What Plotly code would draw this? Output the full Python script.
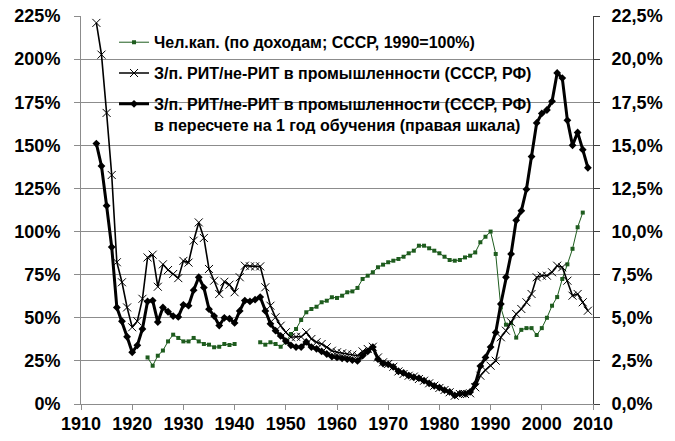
import plotly.graph_objects as go

# ---- data ----
years_main = list(range(1913, 2010))

# З/п. РИТ/не-РИТ в промышленности (left scale, %)
wage_ratio = [
    221, 202.6, 168.8, 132.8, 82.2, 70.6, 56, 44.5, 48, 61,          # 1913-1922
    85, 86.6, 68, 81, 77.7, 75.4, 73, 83, 82, 94.7,                  # 1923-1932
    105.3, 96.3, 78.3, 71.5, 63.8, 70.9, 69.2, 64.8, 73.5, 80.2,     # 1933-1942
    79.8, 79.8, 79.8, 67.7, 57, 50.3, 45.4, 41.6, 38.7, 39,          # 1943-1952
    39, 41.6, 37.7, 35.8, 34.8, 32.9, 30.9, 30, 29.4, 29,            # 1953-1962
    28.6, 28, 30.5, 31.9, 33.2, 27, 24.2, 23.2, 21.6, 18.9,          # 1963-1972
    17.4, 16.4, 15.9, 14.5, 13.5, 12, 10.6, 9.3, 8.1, 6.8,           # 1973-1982
    4.8, 5.8, 5.8, 6.2, 9.7, 16.4, 19.7, 22.2, 25.1, 38.7,           # 1983-1992
    42.5, 47.4, 52.2, 55.1, 59, 63.8, 73.5, 74.4, 74.4, 76.4,        # 1993-2002
    80.2, 79.3, 71.5, 62.8, 63.8, 59, 54.1,                          # 2003-2009
]

# same, per 1 year of schooling (right scale, %)
wage_ratio_per_year = [
    15.1, 13.8, 11.5, 9.1, 5.6, 4.8, 3.9, 3.0, 3.4, 4.35,            # 1913-1922
    5.95, 6.0, 4.75, 5.6, 5.35, 5.1, 5.05, 5.75, 5.7, 6.6,           # 1923-1932
    7.35, 6.75, 5.5, 5.1, 4.55, 5.0, 4.95, 4.7, 5.4, 6.0,            # 1933-1942
    5.95, 6.05, 6.2, 5.4, 4.65, 4.25, 3.95, 3.65, 3.4, 3.3,          # 1943-1952
    3.3, 3.6, 3.3, 3.2, 3.05, 2.9, 2.75, 2.7, 2.65, 2.6,             # 1953-1962
    2.55, 2.5, 2.8, 3.05, 3.3, 2.6, 2.35, 2.3, 2.15, 1.9,            # 1963-1972
    1.8, 1.65, 1.55, 1.5, 1.35, 1.2, 1.05, 0.95, 0.8, 0.7,           # 1973-1982
    0.5, 0.6, 0.6, 0.7, 1.15, 2.2, 2.7, 3.3, 4.15, 5.8,              # 1983-1992
    7.35, 8.7, 10.65, 11.2, 12.45, 14.35, 16.3, 16.85, 17.05, 17.55, # 1993-2002
    19.2, 18.9, 16.45, 15.0, 15.75, 14.75, 13.7,                     # 2003-2009
]

years_hc = list(range(1923, 2009))
# Чел.кап. (по доходам; СССР, 1990=100%), left scale, gap 1941-1944
human_capital = [
    27, 22.2, 28, 31, 36.3, 40.2, 38.3, 36.3, 36.3, 38.3,            # 1923-1932
    36.3, 34.8, 34.4, 32.9, 33.2, 34.8, 34.2, 34.8,                  # 1933-1940
    None, None, None, None,                                          # 1941-1944
    35.8, 34.4, 35.8, 34.8, 33.2, 35.8, 40.6, 43.5, 48.7, 53.2,      # 1945-1954
    55.1, 56.4, 59, 59.9, 61.9, 61.5, 62.8, 64.8, 65.3, 67.3,        # 1955-1964
    72.5, 74.4, 76.4, 79.3, 80.8, 82.2, 83.1, 84.1, 85.4, 87.4,      # 1965-1974
    88.9, 91.8, 91.8, 90.3, 88.9, 87.4, 85.4, 83.5, 83.1, 83.5,      # 1975-1984
    85, 86, 87.9, 93.8, 97, 100, 87, 56, 46, 47,                     # 1985-1994
    38.5, 43, 44, 44, 40, 44, 50, 57, 62, 72.5,                      # 1995-2004
    81, 90, 102.5, 111,                                              # 2005-2008
]

left_ticks = [0, 25, 50, 75, 100, 125, 150, 175, 200, 225]
left_labels = ["0%", "25%", "50%", "75%", "100%", "125%", "150%", "175%", "200%", "225%"]
right_ticks = [0, 2.5, 5, 7.5, 10, 12.5, 15, 17.5, 20, 22.5]
right_labels = ["0,0%", "2,5%", "5,0%", "7,5%", "10,0%", "12,5%", "15,0%", "17,5%", "20,0%", "22,5%"]
x_ticks = list(range(1910, 2011, 10))
x_labels = [str(v) for v in x_ticks]

names = [
    "Чел.кап. (по доходам; СССР, 1990=100%)",
    "З/п. РИТ/не-РИТ в промышленности (СССР, РФ)",
    "З/п. РИТ/не-РИТ в промышленности (СССР, РФ)<br>в пересчете на 1 год обучения (правая шкала)",
]

assert len(wage_ratio) == len(years_main)
assert len(wage_ratio_per_year) == len(years_main)
assert len(human_capital) == len(years_hc)


def bold(items):
    return ["<b>" + s.replace("<br>", "</b><br><b>") + "</b>" for s in items]


FONT = "Arial"
GREEN = "#1e5c1e"

fig = go.Figure()
fig.add_trace(go.Scatter(
    x=years_hc, y=human_capital, name=bold(names)[0], legendgroup="a",
    mode="lines+markers", connectgaps=False,
    line=dict(color=GREEN, width=1),
    marker=dict(symbol="square", size=4, color=GREEN),
))
fig.add_trace(go.Scatter(
    x=years_main, y=wage_ratio, name=bold(names)[1], legendgroup="b",
    mode="lines+markers",
    line=dict(color="black", width=1.6),
    marker=dict(symbol="x-thin-open", size=8, color="black",
                line=dict(color="black", width=1)),
))
fig.add_trace(go.Scatter(
    x=years_main, y=wage_ratio_per_year, name=bold(names)[2], legendgroup="c",
    yaxis="y2", mode="lines+markers",
    line=dict(color="black", width=3),
    marker=dict(symbol="diamond", size=6, color="black"),
))

# white legend area hiding the gridlines behind the legend text
fig.add_shape(
    type="rect", xref="paper", yref="paper",
    x0=0.0703, x1=0.898, y0=0.685, y1=0.985,
    fillcolor="white", line=dict(width=0), layer="below",
)

tickfont = dict(family=FONT, size=18, color="black")

fig.update_layout(
    width=675, height=441, autosize=False,
    margin=dict(l=81, r=82, t=16, b=37, autoexpand=False),
    paper_bgcolor="white", plot_bgcolor="white",
    font=dict(family=FONT, color="black"),
    showlegend=True,
    legend=dict(
        x=0.0645, y=0.976, xanchor="left", yanchor="top",
        bgcolor="rgba(0,0,0,0)", borderwidth=0,
        font=dict(family=FONT, size=16, color="black"),
        tracegroupgap=7, valign="top",
    ),
    xaxis=dict(
        range=[1910, 2010], tickvals=x_ticks, ticktext=bold(x_labels),
        showgrid=False, zeroline=False, automargin=False,
        showline=True, linecolor="#8c8c8c", linewidth=1,
        ticks="outside", ticklen=5, tickcolor="#8c8c8c",
        ticklabelstandoff=-2,
        tickfont=tickfont,
    ),
    yaxis=dict(
        range=[0, 225], tickvals=left_ticks, ticktext=bold(left_labels),
        showgrid=True, gridcolor="#8c8c8c", gridwidth=1,
        zeroline=False, automargin=False,
        showline=True, linecolor="#8c8c8c", linewidth=1,
        ticks="outside", ticklen=6, tickcolor="#8c8c8c",
        ticklabelstandoff=10,
        tickfont=tickfont,
    ),
    yaxis2=dict(
        range=[0, 22.5], tickvals=right_ticks, ticktext=bold(right_labels),
        overlaying="y", side="right",
        showgrid=False, zeroline=False, automargin=False,
        showline=True, linecolor="#404040", linewidth=1,
        ticks="outside", ticklen=6, tickcolor="#404040",
        ticklabelstandoff=8,
        tickfont=tickfont,
    ),
)

fig.write_html(
    "out.html",
    config={"displayModeBar": False},
    post_script="document.body.style.margin='0';",
)
